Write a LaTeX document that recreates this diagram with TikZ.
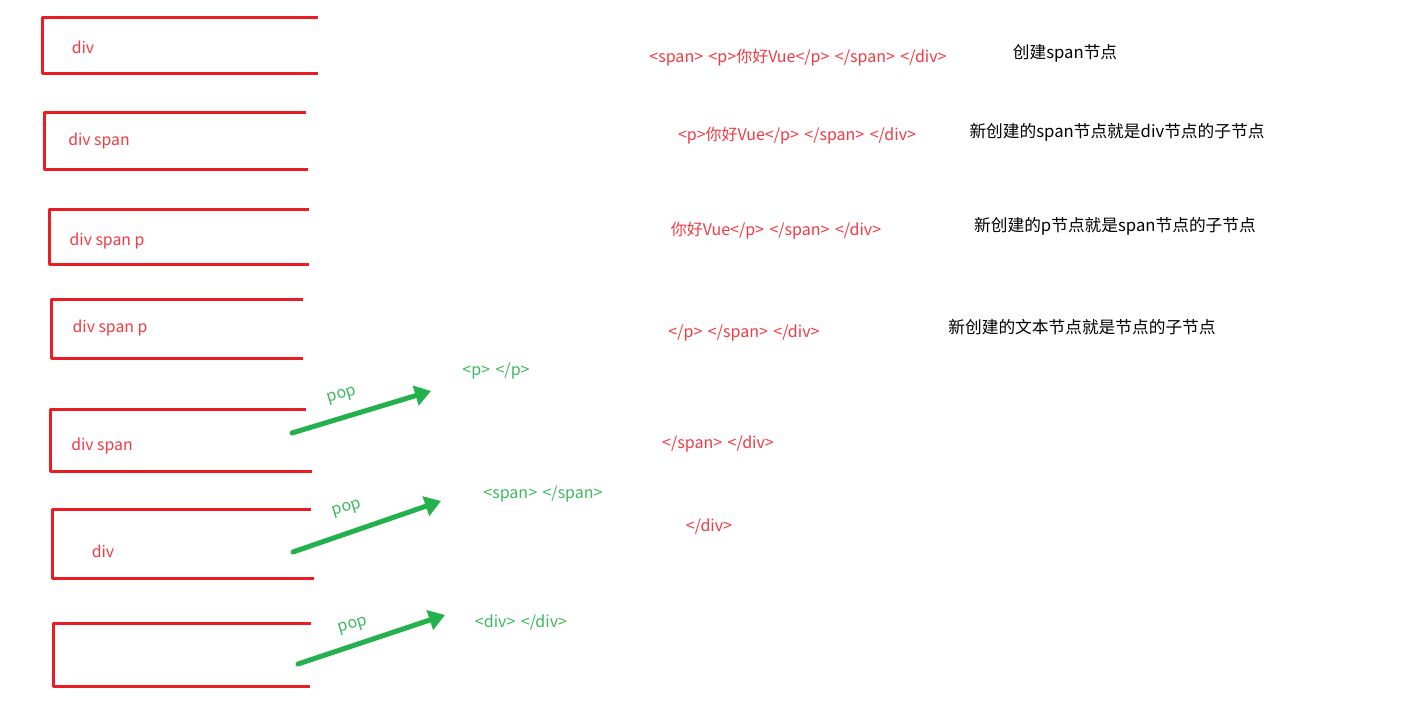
\documentclass[tikz,border=0pt]{standalone}
\usepackage{fontspec}
\setmainfont{Noto Sans CJK SC}
\usetikzlibrary{arrows.meta}
\definecolor{boxred}{HTML}{EC1C24}
\definecolor{txtred}{HTML}{F23A44}
\definecolor{arrgreen}{HTML}{22B14C}
\definecolor{txtgreen}{HTML}{3DB85C}
\tikzset{
  stackbox/.style={draw=boxred,line width=3pt,line join=round},
  boxlabel/.style={text=txtred,font=\fontsize{15.8}{18}\selectfont,inner sep=0pt,yshift=-1.5pt},
  tagtext/.style={text=txtred,font=\fontsize{16}{18}\selectfont,inner sep=0pt,yshift=-2pt},
  note/.style={text=black,font=\fontsize{16.7}{19}\selectfont,inner sep=0pt,yshift=-2pt},
  greentag/.style={text=txtgreen,font=\fontsize{16}{18}\selectfont,inner sep=0pt,yshift=-2pt},
  poplabel/.style={text=txtgreen,font=\fontsize{16}{18}\selectfont,inner sep=0pt,rotate=17},
  poparrow/.style={draw=arrgreen,line width=5pt,line cap=round,-{Triangle[length=16pt,width=20pt]}}
}
\newcommand{\gp}{\kern5.5pt}
\begin{document}
\begin{tikzpicture}[x=1pt,y=-1pt]
\useasboundingbox (0,0) rectangle (1409,701);
% stack boxes
\draw[stackbox] (318,18) -- (42,18) -- (42,74) -- (318,74);
\draw[stackbox] (306,112) -- (44,112) -- (44,169) -- (308,169);
\draw[stackbox] (309,209) -- (49,209) -- (49,264) -- (309,264);
\draw[stackbox] (303,299) -- (51,299) -- (51,358) -- (303,358);
\draw[stackbox] (306,409) -- (50,409) -- (50,471) -- (312,471);
\draw[stackbox] (311,509) -- (52,509) -- (52,578) -- (314,578);
\draw[stackbox] (311,623) -- (53,623) -- (53,686) -- (310,686);
% box labels
\node[boxlabel] (b1) at (83,46) {div};
\node[boxlabel] (b2) at (99,140) {div span};
\node[boxlabel] (b3) at (107,240) {div span p};
\node[boxlabel] (b4) at (110,327) {div span p};
\node[boxlabel] (b5) at (102,445) {div span};
\node[boxlabel] (b6) at (103,550) {div};
% remaining template text
\node[tagtext] (t1) at (798,56) {<span>\gp<p>你好Vue</p>\gp</span>\gp</div>};
\node[tagtext] (t2) at (797,134) {<p>你好Vue</p>\gp</span>\gp</div>};
\node[tagtext] (t3) at (776,229) {你好Vue</p>\gp</span>\gp</div>};
\node[tagtext] (t4) at (744,331) {</p>\gp</span>\gp</div>};
\node[tagtext] (t5) at (718,442) {</span>\gp</div>};
\node[tagtext] (t6) at (709,525) {</div>};
% notes
\node[note] (n1) at (1065,51) {创建span节点};
\node[note] (n2) at (1117,130) {新创建的span节点就是div节点的子节点};
\node[note] (n3) at (1115,224) {新创建的p节点就是span节点的子节点};
\node[note] (n4) at (1082,325) {新创建的文本节点就是节点的子节点};
% popped elements
\node[greentag] (g1) at (496,369) {<p>\gp</p>};
\node[greentag] (g2) at (543,492) {<span>\gp</span>};
\node[greentag] (g3) at (521,621) {<div>\gp</div>};
% arrows
\coordinate (a1s) at (292,433);
\coordinate (a1e) at (431,391);
\coordinate (a2s) at (293,552);
\coordinate (a2e) at (441,501);
\coordinate (a3s) at (298,664);
\coordinate (a3e) at (445,615);
\draw[poparrow] (a1s) -- (a1e);
\draw[poparrow] (a2s) -- (a2e);
\draw[poparrow] (a3s) -- (a3e);
\node[poplabel] (p1) at (342,396) {pop};
\node[poplabel] (p2) at (347,509) {pop};
\node[poplabel] (p3) at (353,626) {pop};
\end{tikzpicture}
\end{document}
